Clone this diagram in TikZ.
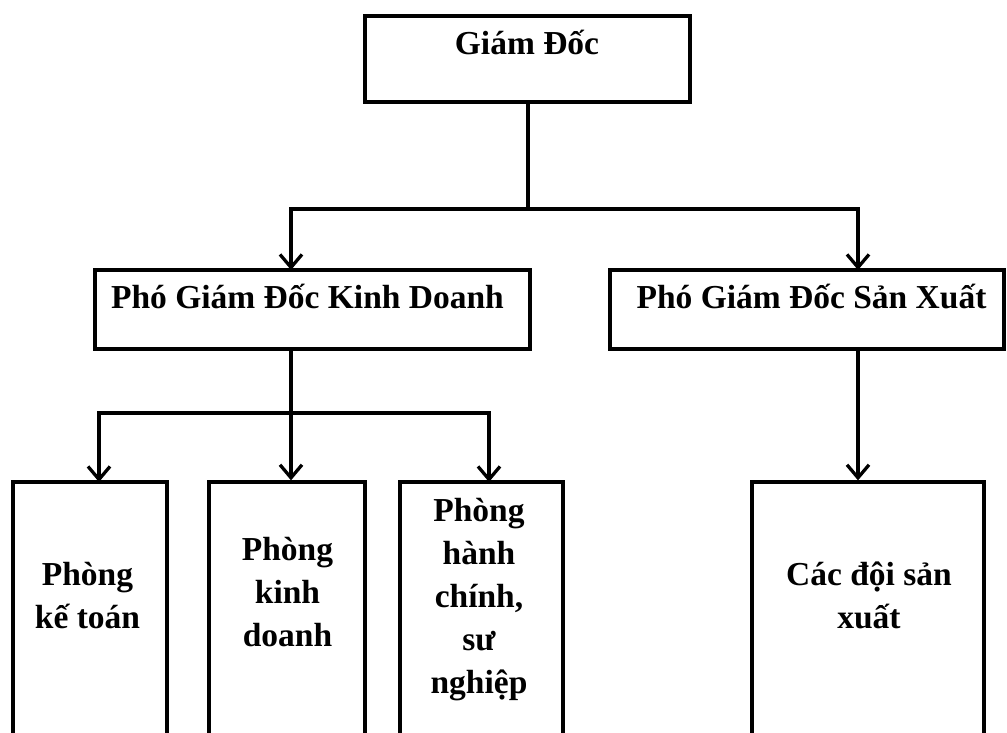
\documentclass[tikz,border=0pt]{standalone}
\usepackage{fontspec}
\setmainfont{Liberation Serif}
\usetikzlibrary{arrows.meta}
\begin{document}
\begin{tikzpicture}[x=1pt,y=-1pt,
  box/.style={draw, line width=3.3pt, inner sep=0pt, minimum height=#1},
  box/.default=79,
  lbl/.style={font=\bfseries\fontsize{33.5}{43}\selectfont, align=center, inner sep=0pt},
  wire/.style={line width=3.3pt},
  link/.style={line width=3.3pt, -{Straight Barb[length=13pt,width=22pt,line width=3.3pt]}}]
\clip (0,0) rectangle (1007,733);
\fill[white] (0,0) rectangle (1007,733);

% director
\node[box=86, minimum width=325] (gd) at (527.5,59) {};
\node[lbl, anchor=base] (gdt) at (527,55) {Giám Đốc};

% deputy directors
\node[box, minimum width=435] (kd) at (312.5,309.5) {};
\node[lbl, anchor=base] (kdt) at (307.5,308) {Phó Giám Đốc Kinh Doanh};
\node[box, minimum width=394] (sx) at (807,309.5) {};
\node[lbl, anchor=base] (sxt) at (811.5,308) {Phó Giám Đốc Sản Xuất};

% departments (running past the lower edge)
\node[box=318, minimum width=154] (b1) at (90,641) {};
\node[box=318, minimum width=156] (b2) at (287,641) {};
\node[box=318, minimum width=163] (b3) at (481.5,641) {};
\node[box=318, minimum width=232] (b4) at (868,641) {};
\node[lbl, anchor=base] (t1) at (87.5,628) {Phòng\\kế toán};
\node[lbl, anchor=base] (t2) at (287.5,646) {Phòng\\kinh\\doanh};
\node[lbl, anchor=base] (t3) at (479,693) {Phòng\\hành\\chính,\\sư\\nghiệp};
\node[lbl, anchor=base] (t4) at (869,628) {Các đội sản\\xuất};

% junctions and arrow ends
\coordinate (j1) at (528,209);
\coordinate (kdin) at (291,270);
\coordinate (sxin) at (858,270);
\coordinate (j2) at (291,413);
\coordinate (b1in) at (99,482);
\coordinate (b3in) at (489,482);

\draw[wire] (gd.south -| j1) -- (j1);
\draw[link] (j1) -| (kdin);
\draw[link] (j1) -| (sxin);
\draw[wire] (kd.south -| kdin) -- (j2);
\draw[link] (j2) -| (b1in);
\draw[link] (j2) -- (b2.north -| j2);
\draw[link] (j2) -| (b3in);
\draw[link] (sx.south -| sxin) -- (b4.north -| sxin);
\end{tikzpicture}
\end{document}
